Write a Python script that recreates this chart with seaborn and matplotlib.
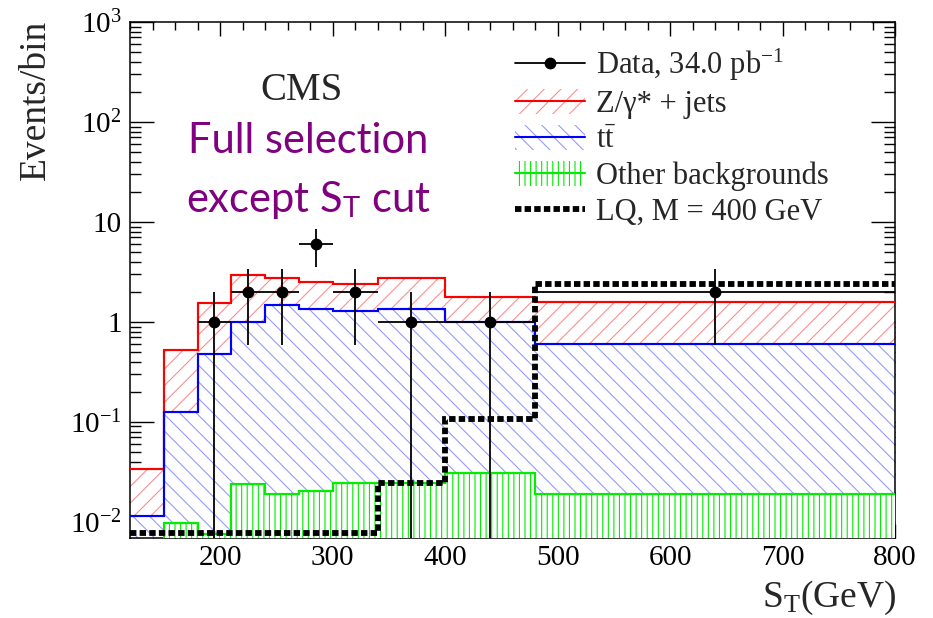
import numpy as np
import pandas as pd
import matplotlib
matplotlib.use("Agg")
import matplotlib.pyplot as plt
import seaborn as sns
from matplotlib.patches import Patch
from matplotlib.lines import Line2D
from matplotlib.ticker import FixedLocator, NullFormatter, MultipleLocator

# S_T binning (GeV) and per-bin yields
bin_edges = [120, 150, 180, 210, 240, 270, 300, 340, 400, 480, 800]
zjets_stack = [0.034, 0.52, 1.55, 2.95, 2.77, 2.53, 2.38, 2.73, 1.77, 1.60]
ttbar_stack = [0.0115, 0.126, 0.48, 1.00, 1.48, 1.35, 1.30, 1.35, 1.00, 0.60]
other_bkg = [0.0, 0.0097, 0.0075, 0.0238, 0.0190, 0.0204, 0.0245, 0.0246, 0.0307, 0.0190]
lq_m400 = [0.0077, 0.0077, 0.0077, 0.0077, 0.0077, 0.0077, 0.0077, 0.0247, 0.107, 2.40]

data_st = [195, 225, 255, 285, 320, 370, 440, 640]
data_counts = [1, 2, 2, 6, 2, 1, 1, 2]
data_lo_edge = [180, 210, 240, 270, 300, 340, 400, 480]
data_hi_edge = [210, 240, 270, 300, 340, 400, 480, 800]

ytick_vals = [1e-2, 1e-1, 1, 10, 1e2, 1e3]
ytick_labels = [r'$\mathrm{10^{-2}}$', r'$\mathrm{10^{-1}}$', '1', '10',
                r'$\mathrm{10^{2}}$', r'$\mathrm{10^{3}}$']

sns.set_style("ticks")
plt.rcParams['font.family'] = ['Liberation Serif', 'DejaVu Serif']
plt.rcParams['mathtext.fontset'] = 'custom'
plt.rcParams['mathtext.rm'] = 'Liberation Serif'
plt.rcParams['mathtext.it'] = 'Liberation Serif:italic'
plt.rcParams['mathtext.bf'] = 'Liberation Serif:bold'
plt.rcParams['mathtext.sf'] = 'Lato'
plt.rcParams['hatch.linewidth'] = 0.8

fig = plt.figure(figsize=(9.33, 6.18), dpi=100)
ax = fig.add_axes([130 / 933, 1 - 538 / 618, 765 / 933, 516 / 618])

edges = np.array(bin_edges, dtype=float)
centers = 0.5 * (edges[1:] + edges[:-1])
hists = pd.DataFrame({'st': centers, 'zjets': zjets_stack, 'ttbar': ttbar_stack,
                      'other': other_bkg})

# hatched fills (white face so the upper layers hide the ones beneath)
ax.stairs(zjets_stack, edges, baseline=1e-5, fill=True, facecolor='white',
          edgecolor='#ff8f8f', hatch='//', linewidth=0, zorder=1)
ax.stairs(ttbar_stack, edges, baseline=1e-5, fill=True, facecolor='white',
          edgecolor='#9a9aff', hatch='\\\\', linewidth=0, zorder=2)
ax.stairs(other_bkg, edges, baseline=1e-5, fill=True, facecolor='white',
          edgecolor='#00ee00', hatch='|||', linewidth=0, zorder=3)

# outlines
for col, c in [('zjets', '#ff0000'), ('ttbar', '#0000ff'), ('other', '#00ee00')]:
    sns.histplot(data=hists, x='st', weights=col, bins=bin_edges, element='step',
                 fill=False, color=c, linewidth=1.5, ax=ax, zorder=4)
    # vertical risers at bin boundaries
    ax.stairs(hists[col].values, edges, baseline=None, color=c, linewidth=1.5, zorder=4)

ax.stairs(lq_m400, edges, baseline=None, color='black', linewidth=4.2,
          linestyle=(0, (1.1, 0.55)), zorder=6)

y = np.array(data_counts, dtype=float)
x = np.array(data_st, dtype=float)
err = np.sqrt(y)
ax.errorbar(x, y,
            xerr=[x - np.array(data_lo_edge), np.array(data_hi_edge) - x],
            yerr=[np.minimum(err, y - 1e-5), err],
            fmt='o', color='black', ms=7.5, elinewidth=1.3, capsize=0, zorder=10)

ax.set_yscale('log')
ax.set_xlim(120, 800)
ax.set_ylim(0.0069, 1000)
ax.set_xlabel('')
ax.set_ylabel('')

ax.yaxis.set_major_locator(FixedLocator(ytick_vals))
ax.set_yticklabels(ytick_labels)
minor = [m * 10.0 ** e for e in range(-3, 3) for m in range(2, 10)]
ax.yaxis.set_minor_locator(FixedLocator(minor))
ax.yaxis.set_minor_formatter(NullFormatter())
ax.xaxis.set_major_locator(MultipleLocator(100))
ax.xaxis.set_minor_locator(MultipleLocator(20))

ax.tick_params(axis='both', which='both', direction='in', top=True, right=True,
               width=1.0, labelsize=21, colors='black')
ax.tick_params(axis='y', which='major', length=17, pad=6)
ax.tick_params(axis='y', which='minor', length=8)
ax.tick_params(axis='x', which='major', length=10, pad=5)
ax.tick_params(axis='x', which='minor', length=5.5)
for s in ax.spines.values():
    s.set_linewidth(1.1)
    s.set_color('black')

fig.text(36 / 933, 1 - 20 / 618, 'Events/bin', rotation=90, ha='center', va='top', fontsize=27)
fig.text(896 / 933, 1 - 607 / 618, r'$\mathrm{S_{T}(GeV)}$', ha='right', va='baseline', fontsize=27)

fig.text(302 / 933, 1 - 100 / 618, 'CMS', ha='center', va='baseline', fontsize=28)
fig.text(308 / 933, 1 - 153 / 618, 'Full selection', ha='center', va='baseline',
         fontsize=30, color='#800080', family=['Lato', 'DejaVu Sans'])
fig.text(308 / 933, 1 - 212 / 618, r'except S$_{\mathsf{T}}$ cut', ha='center', va='baseline',
         fontsize=30, color='#800080', family=['Lato', 'DejaVu Sans'])

handles = [
    Line2D([], [], color='black', marker='o', ms=7.5, lw=1.3),
    (Patch(facecolor='white', edgecolor='#ff8f8f', hatch='//', lw=0),
     Line2D([], [], color='#ff0000', lw=1.5)),
    (Patch(facecolor='white', edgecolor='#9a9aff', hatch='\\\\', lw=0),
     Line2D([], [], color='#0000ff', lw=1.5)),
    (Patch(facecolor='white', edgecolor='#00ee00', hatch='|||', lw=0),
     Line2D([], [], color='#00ee00', lw=1.5)),
    Line2D([], [], color='black', lw=4.2, linestyle=(0, (1.1, 0.55))),
]
labels = [r'Data, 34.0 pb$^{\mathrm{-1}}$', 'Z/γ* + jets', r'$\mathrm{t\bar{t}}$',
          'Other backgrounds', 'LQ, M = 400 GeV']
fig.legend(handles, labels, loc='upper left', bbox_to_anchor=(515 / 933, 1 - 47 / 618),
           frameon=False, fontsize=22, handlelength=2.3, handleheight=0.9,
           handletextpad=0.35, labelspacing=0.19, borderaxespad=0, borderpad=0)

fig.savefig('out.png', dpi=100)
